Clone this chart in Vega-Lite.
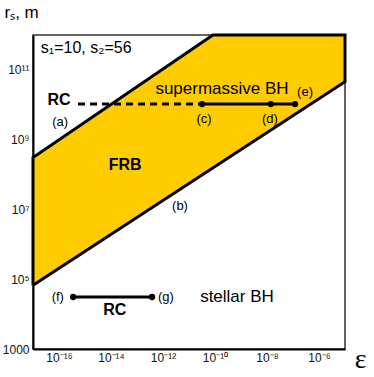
{
  "$schema": "https://vega.github.io/schema/vega-lite/v6.json",
  "width": 312,
  "height": 314,
  "autosize": "none",
  "padding": {"left": 33, "top": 35, "right": 29, "bottom": 28},
  "config": {
    "font": "Liberation Sans",
    "view": {"stroke": "#333", "strokeWidth": 1.5},
    "axis": {"grid": false, "domainColor": "black", "domainWidth": 2, "labelFont": "Liberation Sans", "labelFontSize": 12, "labelColor": "#111"}
  },
  "datasets": {
    "region": [
      {"x": 1e-17, "lo": 6.76e4, "hi": 3.09e8},
      {"x": 8.3e-11, "lo": 1.55e8, "hi": 1e12},
      {"x": 1e-5, "lo": 4.57e10, "hi": 1e12}
    ],
    "outline": [
      {"x": 1e-17, "y": 6.76e4, "o": 1},
      {"x": 1e-17, "y": 3.09e8, "o": 2},
      {"x": 8.3e-11, "y": 1e12, "o": 3},
      {"x": 1e-5, "y": 1e12, "o": 4},
      {"x": 1e-5, "y": 4.57e10, "o": 5},
      {"x": 1e-17, "y": 6.76e4, "o": 6}
    ],
    "rcdash": [
      {"x": 5.4e-16, "y": 1.05e10},
      {"x": 3.16e-11, "y": 1.05e10}
    ],
    "rcsmbh": [
      {"x": 3.16e-11, "y": 1.05e10},
      {"x": 1.4e-8, "y": 1.05e10},
      {"x": 1.2e-7, "y": 1.05e10}
    ],
    "rcstellar": [
      {"x": 3.5e-16, "y": 3.1e4},
      {"x": 3.8e-13, "y": 3.1e4}
    ],
    "small": [
      {"x": 1.1e-16, "y": 3.2e9, "t": "(a)"},
      {"x": 4.5e-12, "y": 1.26e7, "t": "(b)"},
      {"x": 3.8e-11, "y": 3.9e9, "t": "(c)"},
      {"x": 1.3e-8, "y": 3.9e9, "t": "(d)"},
      {"x": 2.9e-7, "y": 2.3e10, "t": "(e)"},
      {"x": 9e-17, "y": 3.1e4, "t": "(f)"},
      {"x": 1.3e-12, "y": 3.1e4, "t": "(g)"}
    ],
    "large": [
      {"x": 1.86e-10, "y": 2.8e10, "t": "supermassive BH"},
      {"x": 7e-10, "y": 3.1e4, "t": "stellar BH"}
    ],
    "bold": [
      {"x": 1e-16, "y": 1.35e10, "t": "RC"},
      {"x": 1.4e-14, "y": 1.3e4, "t": "RC"},
      {"x": 3.5e-14, "y": 1.9e8, "t": "FRB"}
    ],
    "param": [
      {"x": 2e-17, "y": 4.2e11, "t": "s₁=10, s₂=56"}
    ]
  },
  "layer": [
    {
      "data": {"name": "region"},
      "mark": {"type": "area", "color": "#FFCC00", "opacity": 1},
      "encoding": {
        "x": {"field": "x", "type": "quantitative",
          "scale": {"type": "log", "domain": [1e-17, 1e-5], "nice": false},
          "axis": {
            "title": "ε", "titleFont": "Liberation Serif", "titleFontSize": 28, "titleFontWeight": "normal",
            "titleX": 327, "titleY": 10, "titleAlign": "center", "titleBaseline": "middle", "titleColor": "black",
            "values": [1e-16, 1e-14, 1e-12, 1e-10, 1e-8, 1e-6],
            "labelExpr": "datum.value < 1e-15 ? '10⁻¹⁶' : datum.value < 1e-13 ? '10⁻¹⁴' : datum.value < 1e-11 ? '10⁻¹²' : datum.value < 1e-9 ? '10⁻¹⁰' : datum.value < 1e-7 ? '10⁻⁸' : '10⁻⁶'",
            "ticks": false, "labelPadding": 3, "labelFlush": false
          }},
        "y": {"field": "hi", "type": "quantitative",
          "scale": {"type": "log", "domain": [1e3, 1e12], "nice": false},
          "axis": {
            "title": "rₛ, m", "titleFontSize": 17, "titleFontWeight": "normal", "titleAngle": 0,
            "titleX": -29, "titleY": -23, "titleAlign": "left", "titleBaseline": "middle", "titleColor": "black",
            "values": [1e3, 1e5, 1e7, 1e9, 1e11],
            "labelExpr": "datum.value < 1e4 ? '1000' : datum.value < 1e6 ? '10⁵' : datum.value < 1e8 ? '10⁷' : datum.value < 1e10 ? '10⁹' : '10¹¹'",
            "ticks": false, "labelPadding": 4, "labelFlush": false
          }},
        "y2": {"field": "lo"}
      }
    },
    {
      "data": {"name": "outline"},
      "mark": {"type": "line", "color": "black", "strokeWidth": 3, "strokeJoin": "miter"},
      "encoding": {
        "x": {"field": "x", "type": "quantitative"},
        "y": {"field": "y", "type": "quantitative"},
        "order": {"field": "o", "type": "quantitative"}
      }
    },
    {
      "data": {"name": "rcdash"},
      "mark": {"type": "line", "color": "black", "strokeWidth": 3, "strokeDash": [7, 5]},
      "encoding": {
        "x": {"field": "x", "type": "quantitative"},
        "y": {"field": "y", "type": "quantitative"}
      }
    },
    {
      "data": {"name": "rcsmbh"},
      "mark": {"type": "line", "color": "black", "strokeWidth": 3, "point": {"filled": true, "color": "black", "size": 40}},
      "encoding": {
        "x": {"field": "x", "type": "quantitative"},
        "y": {"field": "y", "type": "quantitative"}
      }
    },
    {
      "data": {"name": "rcstellar"},
      "mark": {"type": "line", "color": "black", "strokeWidth": 3, "point": {"filled": true, "color": "black", "size": 40}},
      "encoding": {
        "x": {"field": "x", "type": "quantitative"},
        "y": {"field": "y", "type": "quantitative"}
      }
    },
    {
      "data": {"name": "small"},
      "mark": {"type": "text", "fontSize": 13, "color": "black", "align": "center", "baseline": "middle"},
      "encoding": {
        "x": {"field": "x", "type": "quantitative"},
        "y": {"field": "y", "type": "quantitative"},
        "text": {"field": "t"}
      }
    },
    {
      "data": {"name": "large"},
      "mark": {"type": "text", "fontSize": 17, "color": "black", "align": "center", "baseline": "middle"},
      "encoding": {
        "x": {"field": "x", "type": "quantitative"},
        "y": {"field": "y", "type": "quantitative"},
        "text": {"field": "t"}
      }
    },
    {
      "data": {"name": "bold"},
      "mark": {"type": "text", "fontSize": 16, "fontWeight": "bold", "color": "black", "align": "center", "baseline": "middle"},
      "encoding": {
        "x": {"field": "x", "type": "quantitative"},
        "y": {"field": "y", "type": "quantitative"},
        "text": {"field": "t"}
      }
    },
    {
      "data": {"name": "param"},
      "mark": {"type": "text", "fontSize": 16, "color": "black", "align": "left", "baseline": "middle"},
      "encoding": {
        "x": {"field": "x", "type": "quantitative"},
        "y": {"field": "y", "type": "quantitative"},
        "text": {"field": "t"}
      }
    }
  ]
}
